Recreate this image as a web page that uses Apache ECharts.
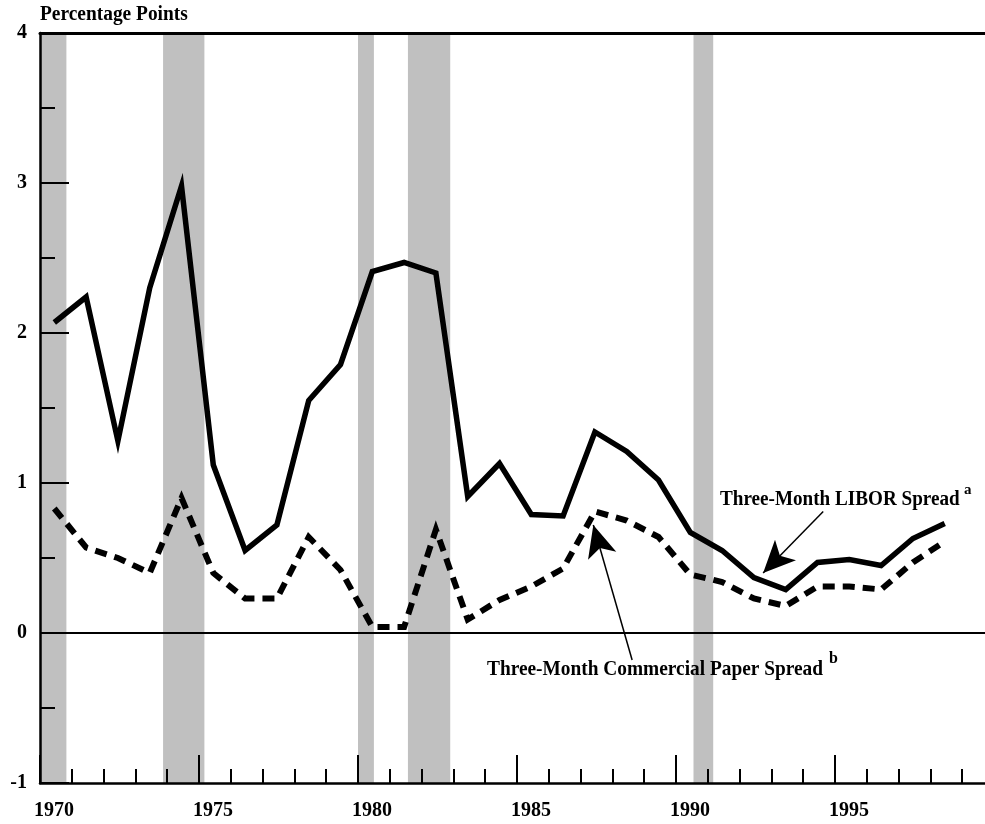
<!DOCTYPE html>
<html>
<head>
<meta charset="utf-8">
<script src="https://cdn.jsdelivr.net/npm/echarts@6/dist/echarts.min.js"></script>
<style>
html,body{margin:0;padding:0;background:#fff;overflow:hidden;width:985px;height:824px;}
#chart{width:994px;height:824px;}
</style>
</head>
<body>
<div id="chart"></div>
<script>
const years = [1970,1971,1972,1973,1974,1975,1976,1977,1978,1979,1980,1981,1982,1983,1984,1985,1986,1987,1988,1989,1990,1991,1992,1993,1994,1995,1996,1997,1998];
const liborSpread = [2.07,2.24,1.28,2.30,2.98,1.12,0.55,0.72,1.55,1.79,2.41,2.47,2.40,0.91,1.13,0.79,0.78,1.34,1.21,1.02,0.67,0.55,0.37,0.29,0.47,0.49,0.45,0.63,0.73];
const cpSpread = [0.83,0.57,0.50,0.40,0.90,0.40,0.23,0.23,0.64,0.42,0.04,0.04,0.69,0.09,0.22,0.31,0.43,0.81,0.75,0.64,0.39,0.34,0.23,0.18,0.31,0.31,0.29,0.47,0.61];
const recessions = [[1969.9,1970.83],[1973.87,1975.17],[1980.0,1980.5],[1981.57,1982.9],[1990.55,1991.17]];
const yTickLabels = ['-1','0','1','2','3','4'];
const xTickLabels = ['1970','1975','1980','1985','1990','1995'];
const yAxisTitle = 'Percentage Points';
const liborLabel = 'Three-Month LIBOR Spread';
const cpLabel = 'Three-Month Commercial Paper Spread';
// annotation arrows in data coordinates: [from, to]
const liborArrow = [[1994.63,0.81],[1992.74,0.40]];
const cpArrow = [[1988.62,-0.18],[1987.40,0.72]];

const midYear = 0.45;
const FONT = "'Liberation Serif','Times New Roman',serif";

const chart = echarts.init(document.getElementById('chart'));
const liborData = years.map((y,i)=>[y+midYear, liborSpread[i]]);
const cpData = years.map((y,i)=>[y+midYear, cpSpread[i]]);

function arrowLine(a){
  return [
    {coord:a[0], symbol:'none'},
    {coord:a[1], symbol:'arrow', symbolSize:[22,32]}
  ];
}

const option = {
  animation:false,
  backgroundColor:'#fff',
  grid:{left:40, right:0, top:33, bottom:41, containLabel:false},
  xAxis:[{
    type:'value', min:1970, max:2000, interval:5, z:10,
    axisLine:{show:true, onZero:false, lineStyle:{color:'#000', width:2.5}},
    axisTick:{show:true, inside:true, length:28, lineStyle:{color:'#000', width:2}},
    minorTick:{show:true, splitNumber:5, length:14, lineStyle:{color:'#000', width:2}},
    splitLine:{show:false},
    axisLabel:{
      show:true, margin:18, color:'#000', fontFamily:FONT, fontWeight:'bold', fontSize:20,
      padding:[0,0,0,28], showMaxLabel:false,
      formatter:(v)=>{ const s=String(Math.round(v)); return xTickLabels.indexOf(s)>=0 ? s : ''; }
    }
  },{
    type:'value', position:'top', min:1970, max:2000, z:10,
    axisLine:{show:true, onZero:false, lineStyle:{color:'#000', width:3}},
    axisTick:{show:false}, axisLabel:{show:false}, splitLine:{show:false}
  }],
  yAxis:{
    type:'value', min:-1, max:4, interval:1, z:10,
    axisLine:{show:true, onZero:false, lineStyle:{color:'#000', width:2.5}},
    axisTick:{show:true, inside:true, length:29, lineStyle:{color:'#000', width:2}},
    minorTick:{show:true, splitNumber:2, length:15, lineStyle:{color:'#000', width:2}},
    splitLine:{show:false},
    axisLabel:{
      margin:13, color:'#000', fontFamily:FONT, fontWeight:'bold', fontSize:20,
      formatter:(v)=>{ const s=String(Math.round(v)); return yTickLabels.indexOf(s)>=0 ? s : ''; }
    }
  },
  series:[
    {
      type:'line', data:[], z:1,
      markArea:{silent:true, itemStyle:{color:'#c0c0c0'},
        data: recessions.map(r=>[{xAxis:r[0]},{xAxis:r[1]}])}
    },
    {
      type:'line', data:[], z:2,
      markLine:{silent:true, symbol:'none', label:{show:false},
        lineStyle:{color:'#000', width:2, type:'solid'},
        data:[{yAxis:0}]}
    },
    {
      name:liborLabel, type:'line', data:liborData, symbol:'none', z:5,
      lineStyle:{color:'#000', width:5.5, join:'miter'}
    },
    {
      name:cpLabel, type:'line', data:cpData, symbol:'none', z:5,
      lineStyle:{color:'#000', width:6, type:[12,8], cap:'butt', join:'miter'}
    },
    {
      type:'line', data:[], z:6,
      markLine:{silent:true, label:{show:false},
        lineStyle:{color:'#000', width:1.5, type:'solid'},
        itemStyle:{color:'#000'},
        data:[arrowLine(liborArrow), arrowLine(cpArrow)]}
    }
  ],
  graphic:[
    {type:'text', z:100, x:40, y:15, scaleX:0.97, style:{text:yAxisTitle, font:"bold 20px "+FONT, fill:'#000', align:'left', verticalAlign:'middle'}},
    {type:'text', z:100, x:720, y:499, scaleX:0.87, style:{text:liborLabel, font:"bold 22px "+FONT, fill:'#000', align:'left', verticalAlign:'middle'}},
    {type:'text', z:100, x:964, y:490, style:{text:'a', font:"bold 15px "+FONT, fill:'#000', align:'left', verticalAlign:'middle'}},
    {type:'text', z:100, x:487, y:669, scaleX:0.88, style:{text:cpLabel, font:"bold 22px "+FONT, fill:'#000', align:'left', verticalAlign:'middle'}},
    {type:'text', z:100, x:829, y:659, style:{text:'b', font:"bold 16px "+FONT, fill:'#000', align:'left', verticalAlign:'middle'}}
  ]
};
chart.setOption(option);
</script>
</body>
</html>
